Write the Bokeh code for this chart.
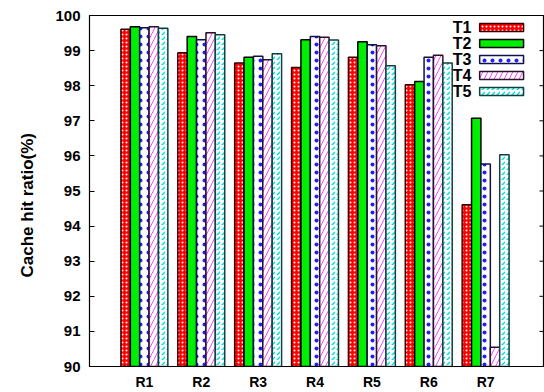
from bokeh.plotting import figure
from bokeh.models import Range1d, FixedTicker, Label, Title
from bokeh.embed import file_html
from bokeh.resources import INLINE

groups = ["R1", "R2", "R3", "R4", "R5", "R6", "R7"]
series = ["T1", "T2", "T3", "T4", "T5"]
t1 = [99.61, 98.94, 98.65, 98.52, 98.81, 98.03, 94.61]
t2 = [99.68, 99.40, 98.81, 99.31, 99.25, 98.12, 97.07]
t3 = [99.65, 99.31, 98.84, 99.40, 99.17, 98.81, 95.77]
t4 = [99.68, 99.51, 98.74, 99.38, 99.14, 98.87, 90.55]
t5 = [99.64, 99.45, 98.91, 99.30, 98.57, 98.65, 96.03]
values = [t1, t2, t3, t4, t5]
y_ticks = list(range(90, 101))

styles = [
    dict(fill_color="#ff0000", hatch_pattern="dot", hatch_color="white", hatch_scale=4, hatch_weight=2, line_color="#3a0000"),
    dict(fill_color="#00ee00", hatch_pattern=None, hatch_color="black", hatch_scale=6, hatch_weight=1, line_color="black"),
    dict(fill_color="white", hatch_pattern="dot", hatch_color="#2020ff", hatch_scale=8, hatch_weight=1, line_color="#10104a"),
    dict(fill_color="white", hatch_pattern="right_diagonal_line", hatch_color="#ff44ff", hatch_scale=10, hatch_weight=1, line_color="#2a102a"),
    dict(fill_color="white", hatch_pattern="right_diagonal_dash", hatch_color="#00e0e0", hatch_scale=5, hatch_weight=1.5, line_color="#104040"),
]

FONT = "Liberation Sans"
X0, X1 = 0.035, 8.035
p = figure(width=544, height=392, output_backend="svg", toolbar_location=None,
           x_range=Range1d(X0, X1), y_range=Range1d(90, 100),
           min_border_left=88, min_border_right=0, min_border_top=15, min_border_bottom=26)
p.background_fill_color = "white"
p.border_fill_color = "white"
p.outline_line_color = "black"
p.outline_line_width = 1.2
p.xgrid.visible = False
p.ygrid.visible = False

bw = 0.165
xs = [i + 1 for i in range(len(groups))]
for k, (name, vals, st) in enumerate(zip(series, values, styles)):
    off = (k - 2) * bw
    p.vbar(x=[x + off for x in xs], top=vals, bottom=90, width=bw,
           fill_color=st["fill_color"], hatch_pattern=st["hatch_pattern"],
           hatch_color=st["hatch_color"], hatch_scale=st["hatch_scale"],
           hatch_weight=st["hatch_weight"], line_color=st["line_color"], line_width=1.5)

# legend (gnuplot style: text left, sample right)
lx0, lx1 = 6.895, 7.667
ly = 99.66
ldy = 0.456
lh = 0.23
for k, (name, st) in enumerate(zip(series, styles)):
    yc = ly - k * ldy
    p.quad(left=[lx0], right=[lx1], top=[yc + lh / 2], bottom=[yc - lh / 2],
           fill_color=st["fill_color"], hatch_pattern=st["hatch_pattern"],
           hatch_color=st["hatch_color"], hatch_scale=st["hatch_scale"],
           hatch_weight=st["hatch_weight"], line_color=st["line_color"], line_width=1.5)
    p.add_layout(Label(x=6.75, y=yc, text=name, text_align="right", text_baseline="middle",
                       text_font=FONT, text_font_style="bold", text_font_size="16px",
                       text_color="black"))

# mirrored inward ticks on the right side
tick_len = 5 / 57.0
p.segment(x0=[X1] * len(y_ticks), x1=[X1 - tick_len] * len(y_ticks), y0=y_ticks, y1=y_ticks,
          line_color="black", line_width=1)

# axes
yax = p.yaxis[0]
yax.ticker = FixedTicker(ticks=y_ticks)
yax.major_tick_in = 5
yax.major_tick_out = 0
yax.minor_tick_in = 0
yax.minor_tick_out = 0
yax.major_label_text_font = FONT
yax.major_label_text_font_style = "bold"
yax.major_label_text_font_size = "15px"
yax.major_label_text_color = "black"
yax.major_label_standoff = 9
yax.axis_line_color = "black"
yax.major_tick_line_color = "black"

xax = p.xaxis[0]
xax.ticker = FixedTicker(ticks=xs)
xax.major_label_overrides = {x: g for x, g in zip(xs, groups)}
xax.major_tick_in = 0
xax.major_tick_out = 0
xax.minor_tick_in = 0
xax.minor_tick_out = 0
xax.major_label_text_font = FONT
xax.major_label_text_font_style = "bold"
xax.major_label_text_font_size = "14px"
xax.major_label_text_color = "black"
xax.major_label_standoff = 7
xax.axis_line_color = "black"

p.add_layout(Title(text="Cache hit ratio(%)", align="left", offset=89, standoff=31,
                   text_font=FONT, text_font_style="bold", text_font_size="17px",
                   text_color="black"), "left")

open("out.html", "w").write(file_html(p, INLINE))
